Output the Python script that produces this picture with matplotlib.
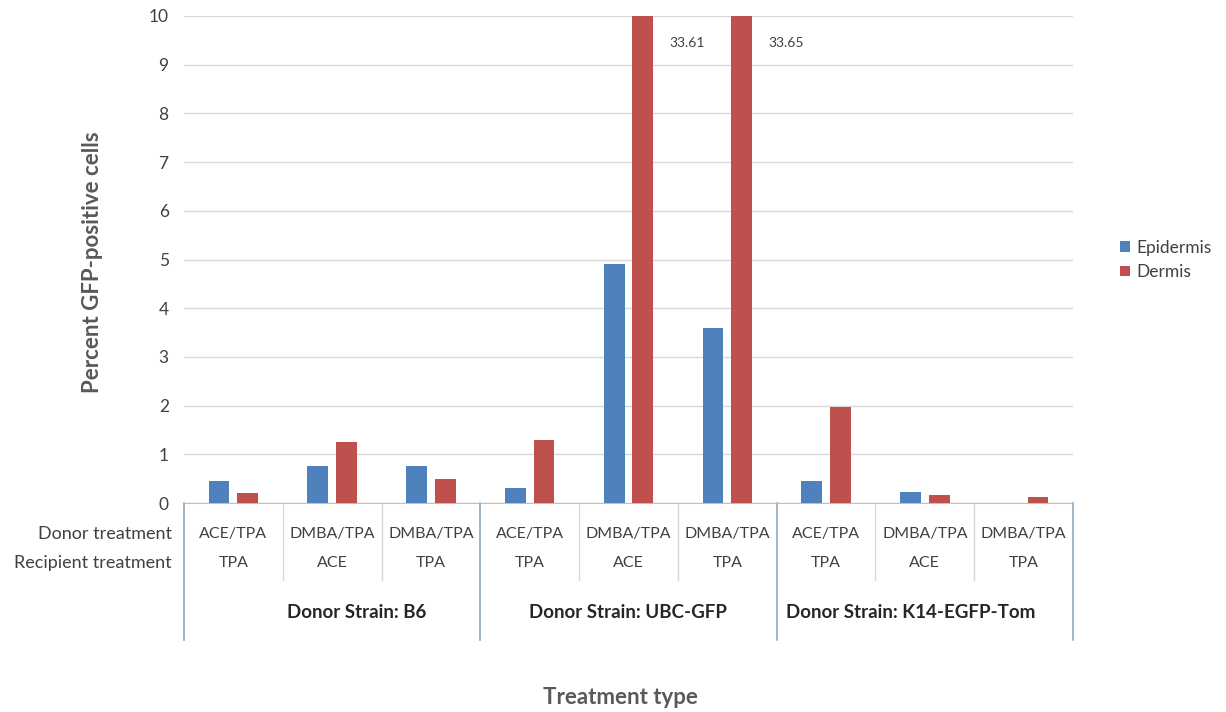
import matplotlib
matplotlib.use("Agg")
import matplotlib.pyplot as plt
import matplotlib.transforms as mtransforms
import numpy as np

plt.rcParams['font.family'] = ['Lato', 'DejaVu Sans']

donor_treatment = ["ACE/TPA", "DMBA/TPA", "DMBA/TPA",
                   "ACE/TPA", "DMBA/TPA", "DMBA/TPA",
                   "ACE/TPA", "DMBA/TPA", "DMBA/TPA"]
recipient_treatment = ["TPA", "ACE", "TPA",
                       "TPA", "ACE", "TPA",
                       "TPA", "ACE", "TPA"]
strains = ["Donor Strain: B6", "Donor Strain: UBC-GFP", "Donor Strain: K14-EGFP-Tom"]
epidermis = [0.45, 0.75, 0.75, 0.30, 4.90, 3.60, 0.45, 0.23, 0.0]
dermis = [0.20, 1.25, 0.50, 1.30, 33.61, 33.65, 1.97, 0.16, 0.12]
yticks = list(range(0, 11))

blue = "#4F81BD"
red = "#C0504D"
text_col = "#404040"
grey_title = "#595959"

W, H = 1226, 712
fig = plt.figure(figsize=(W / 100, H / 100), dpi=100)
left, right, top, bottom = 184, 1073, 16, 503
ax = fig.add_axes([left / W, (H - bottom) / H, (right - left) / W, (bottom - top) / H])

x = np.arange(len(epidermis))
bw = 0.21
off = 0.145
ax.bar(x - off, epidermis, bw, color=blue, label="Epidermis", zorder=3)
ax.bar(x + off, dermis, bw, color=red, label="Dermis", zorder=3)

ax.set_ylim(0, 10)
ax.set_xlim(-0.5, len(x) - 0.5)
ax.set_yticks(yticks)
ax.set_yticklabels([str(t) for t in yticks], fontsize=12.5, color=text_col)
ax.tick_params(axis='y', length=0, pad=11)
ax.set_xticks([])
ax.grid(axis='y', color="#D9D9D9", linewidth=1, zorder=0)
for s in ["left", "right", "top"]:
    ax.spines[s].set_visible(False)
ax.spines["bottom"].set_color("#BFBFBF")

# labels for clipped bars
for i, v in enumerate(dermis):
    if v > 10:
        ax.text(i + off + 0.27, 9.45, f"{v:.2f}", fontsize=10, color=text_col,
                ha='left', va='center')

# table below
tr = mtransforms.blended_transform_factory(ax.transData, ax.transAxes)
ph = bottom - top
def ay(py):
    return (bottom - py) / ph

dark = "#8EA9BE"
light = "#D9D9D9"
for b in range(len(x) + 1):
    xb = b - 0.5
    if b % 3 == 0:
        ax.plot([xb, xb], [0, ay(640)], color=dark, lw=1.2, transform=tr, clip_on=False)
    else:
        ax.plot([xb, xb], [0, ay(580)], color=light, lw=1.0, transform=tr, clip_on=False)

for i in range(len(x)):
    ax.text(i, ay(534), donor_treatment[i], transform=tr, ha='center', va='center',
            fontsize=11.5, color=text_col)
    ax.text(i, ay(563), recipient_treatment[i], transform=tr, ha='center', va='center',
            fontsize=11.5, color=text_col)
strain_x = [357, 628, 911]
for s, sx in zip(strains, strain_x):
    fig.text(sx / W, 1 - 612 / H, s, ha='center', va='center',
             fontsize=13.5, fontweight='bold', color="#262626")

fig.text(172 / W, 1 - 534 / H, "Donor treatment", ha='right', va='center',
         fontsize=13, color=text_col)
fig.text(172 / W, 1 - 563 / H, "Recipient treatment", ha='right', va='center',
         fontsize=13, color=text_col)

fig.text(620 / W, 1 - 697 / H, "Treatment type", ha='center', va='center',
         fontsize=16, fontweight='bold', color=grey_title)
fig.text(93 / W, 1 - 262 / H, "Percent GFP-positive cells", ha='center', va='center',
         rotation=90, fontsize=16, fontweight='bold', color=grey_title)

leg = fig.legend(loc='center left', bbox_to_anchor=(1120 / W, 1 - 260 / H), frameon=False,
                 fontsize=12.5, handlelength=0.55, handleheight=0.55, handletextpad=0.4,
                 labelspacing=0.5, borderaxespad=0, borderpad=0)
for t in leg.get_texts():
    t.set_color(text_col)

fig.savefig("out.png", dpi=100)
